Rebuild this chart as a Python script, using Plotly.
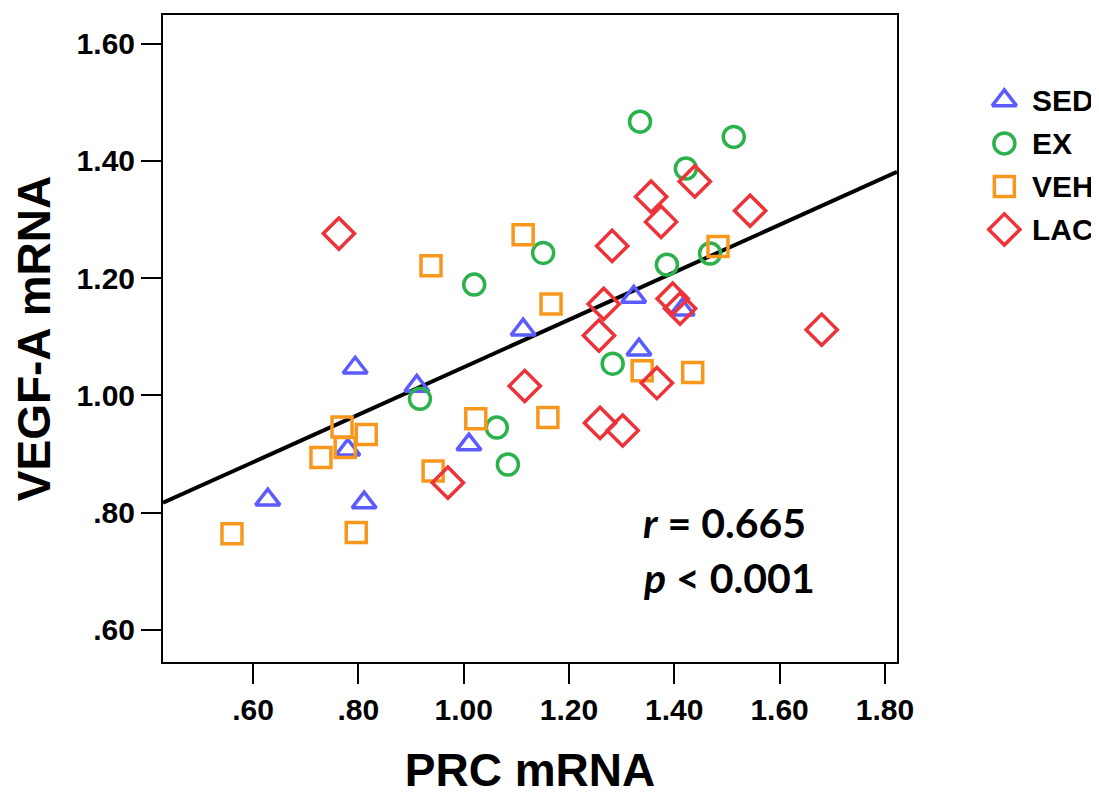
import plotly.graph_objects as go

# ---- data ----
sed_x = [0.628, 0.794, 0.780, 0.811, 0.911, 1.010, 1.113, 1.323, 1.333, 1.415]
sed_y = [0.822, 1.047, 0.907, 0.817, 1.016, 0.916, 1.112, 1.168, 1.078, 1.146]

ex_x = [1.020, 1.151, 0.917, 1.335, 1.513, 1.422, 1.386, 1.468, 1.283, 1.063, 1.084]
ex_y = [1.189, 1.243, 0.994, 1.467, 1.441, 1.387, 1.223, 1.242, 1.054, 0.945, 0.882]

veh_x = [0.560, 0.796, 0.729, 0.769, 0.815, 0.775, 0.942, 0.938, 1.023, 1.113,
         1.160, 1.166, 1.339, 1.435, 1.483]
veh_y = [0.764, 0.766, 0.894, 0.946, 0.933, 0.911, 0.871, 1.221, 0.960, 1.274,
         0.962, 1.156, 1.042, 1.039, 1.254]

lac_x = [0.763, 0.970, 1.116, 1.257, 1.266, 1.282, 1.259, 1.302, 1.356, 1.375,
         1.367, 1.397, 1.411, 1.439, 1.544, 1.680]
lac_y = [1.276, 0.851, 1.016, 1.102, 1.156, 1.255, 0.953, 0.940, 1.339, 1.296,
         1.021, 1.165, 1.148, 1.365, 1.315, 1.112]

group_names = ["SED", "EX", "VEH", "LAC"]

fit_slope = 0.405
fit_intercept = 0.643
stat_r = "0.665"
stat_p = "0.001"

x_range = [0.429, 1.823]
y_range = [0.545, 1.649]

x_tickvals = [0.6, 0.8, 1.0, 1.2, 1.4, 1.6, 1.8]
x_ticktext = [".60", ".80", "1.00", "1.20", "1.40", "1.60", "1.80"]
y_tickvals = [0.6, 0.8, 1.0, 1.2, 1.4, 1.6]
y_ticktext = [".60", ".80", "1.00", "1.20", "1.40", "1.60"]

# ---- styling / layout constants ----
FONT = "Arial, Liberation Sans, sans-serif"
LW = 3.5
W, H = 1099, 796
M_L, M_R, M_T, M_B = 155, 20, 7, 142
PLOT_W = 734
paper_w = W - M_L - M_R
main_frac = PLOT_W / paper_w

symbols = ["triangle-up-open", "circle-open", "square-open", "diamond-open"]
colors = ["#5b5cff", "#2bb24c", "#f7981d", "#ee3239"]
sizes = [21, 21, 20, 24]
xs_all = [sed_x, ex_x, veh_x, lac_x]
ys_all = [sed_y, ex_y, veh_y, lac_y]

fig = go.Figure()

fit_x = x_range
fit_y = [fit_intercept + fit_slope * v for v in fit_x]
fig.add_trace(go.Scatter(x=fit_x, y=fit_y, mode="lines",
                         line=dict(color="black", width=4),
                         showlegend=False, hoverinfo="skip"))

for name, xs, ys, sym, col, sz in zip(group_names, xs_all, ys_all, symbols, colors, sizes):
    fig.add_trace(go.Scatter(
        x=xs, y=ys, mode="markers", name=name, showlegend=False,
        marker=dict(symbol=sym, size=sz, color=col,
                    line=dict(color=col, width=LW)),
    ))

# ---- manual legend on its own invisible axis (right margin area) ----
LEG_MARK_X = 0.565  # fraction of legend-axis width
LEG_TEXT_X = 0.70
LEG_TOP = 0.868     # fraction of plot height
LEG_STEP = 0.0665
for i, (name, sym, col, sz) in enumerate(zip(group_names, symbols, colors, sizes)):
    ly = LEG_TOP - i * LEG_STEP
    fig.add_trace(go.Scatter(
        x=[LEG_MARK_X], y=[ly], mode="markers", xaxis="x2", yaxis="y2",
        showlegend=False, hoverinfo="skip",
        marker=dict(symbol=sym, size=sz, color=col, line=dict(color=col, width=LW)),
    ))
    fig.add_annotation(xref="x2", yref="y2", x=LEG_TEXT_X, y=ly, text="<b>%s</b>" % name,
                       showarrow=False, xanchor="left", yanchor="middle",
                       font=dict(family=FONT, size=30, color="black"))

tickfont_y = dict(family=FONT, size=30, color="black", weight="bold")
tickfont_x = dict(family=FONT, size=30, color="black", weight="bold")
title_font = dict(family=FONT, size=46, color="black", weight="bold")

fig.update_layout(
    xaxis=dict(domain=[0, main_frac], range=x_range, tickvals=x_tickvals, ticktext=x_ticktext,
               showline=True, mirror=True, linecolor="black", linewidth=2,
               ticks="outside", ticklen=20, tickwidth=2, tickcolor="black",
               showgrid=False, zeroline=False, tickfont=tickfont_x, ticklabelstandoff=0,
               automargin=False,
               title=dict(text="PRC mRNA", standoff=29, font=title_font)),
    yaxis=dict(range=y_range, tickvals=y_tickvals, ticktext=y_ticktext,
               showline=True, mirror=True, linecolor="black", linewidth=2,
               ticks="outside", ticklen=20, tickwidth=2, tickcolor="black",
               showgrid=False, zeroline=False, tickfont=tickfont_y, ticklabelstandoff=0,
               automargin=False,
               title=dict(text="VEGF-A mRNA", standoff=22, font=title_font)),
    xaxis2=dict(domain=[main_frac, 1], range=[0, 1], visible=False, anchor="y2"),
    yaxis2=dict(domain=[0, 1], range=[0, 1], visible=False, anchor="x2"),
    width=W, height=H,
    margin=dict(l=M_L, r=M_R, t=M_T, b=M_B),
    plot_bgcolor="white", paper_bgcolor="white",
    showlegend=False,
)

ann_font = dict(family="Lato, Open Sans, sans-serif", size=41, color="black")
fig.add_annotation(xref="x domain", yref="y domain", x=0.651, y=0.216,
                   text="<b><i>r</i> = %s</b>" % stat_r, showarrow=False,
                   xanchor="left", yanchor="middle", font=ann_font)
fig.add_annotation(xref="x domain", yref="y domain", x=0.651, y=0.130,
                   text="<b><i>p</i> &lt; %s</b>" % stat_p, showarrow=False,
                   xanchor="left", yanchor="middle", font=ann_font)

fig.write_html("out.html")
